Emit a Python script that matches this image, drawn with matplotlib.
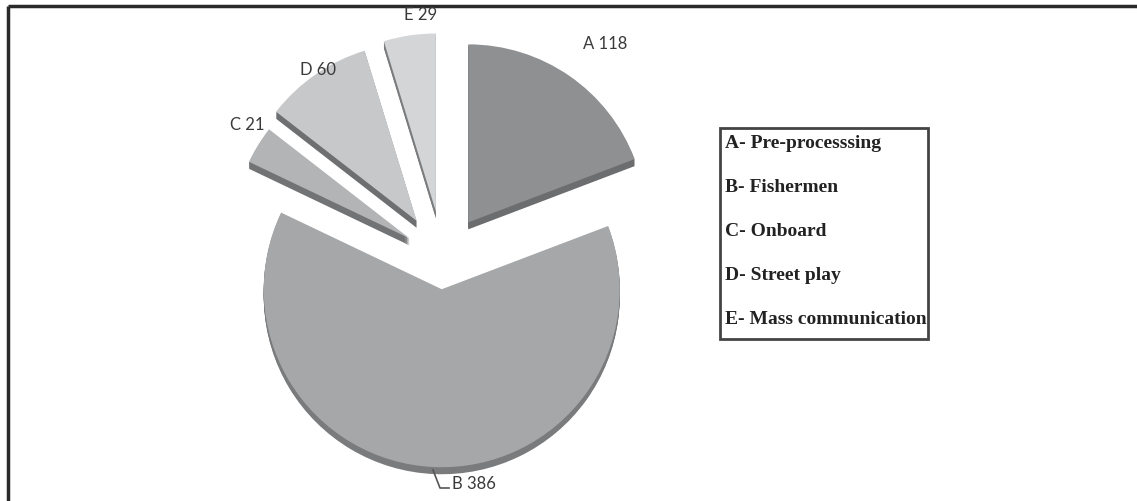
import numpy as np
import matplotlib
matplotlib.use('Agg')
import matplotlib.pyplot as plt
from matplotlib.patches import Rectangle

# slice data
codes = ['A', 'B', 'C', 'D', 'E']
values = [118, 386, 21, 60, 29]
names = ['Pre-processsing', 'Fishermen', 'Onboard', 'Street play', 'Mass communication']

# look of the pie (explode as a fraction of the radius)
explode = [0.25, 0.17, 0.22, 0.26, 0.27]
top_colors = ['#8f9092', '#a6a7a9', '#b3b4b6', '#c7c8ca', '#d4d5d7']
side_colors = ['#6c6d6f', '#7a7b7d', '#727375', '#6e6f71', '#7b7c7e']

W, H = 1137, 501
cx, cy = 443, H - 259
R = 178
depth = 7

fig = plt.figure(figsize=(W / 100, H / 100), dpi=100)
ax = fig.add_axes([0, 0, 1, 1])

# pie explode is in data units, so scale by the radius
expl_px = [e * R for e in explode]

# fake 3d thickness: stacked darker copies below the top face
for k in range(depth, 0, -1):
    ax.pie(values, explode=expl_px, colors=side_colors, startangle=90,
           counterclock=False, radius=R, center=(cx, cy - k),
           wedgeprops=dict(linewidth=0))
ax.pie(values, explode=expl_px, colors=top_colors, startangle=90,
       counterclock=False, radius=R, center=(cx, cy),
       wedgeprops=dict(linewidth=0))

ax.set_xlim(0, W)
ax.set_ylim(0, H)
ax.set_aspect('auto')
ax.axis('off')

# data labels
label_pos = [(605, 44), (452, 484), (247, 125), (318, 70), (421, 15)]
for c, v, (lx, ly) in zip(codes, values, label_pos):
    ha = 'left' if c == 'B' else 'center'
    ax.text(lx, H - ly, '%s %d' % (c, v), fontsize=12, family='Lato',
            color='#3a3a3a', ha=ha, va='center')

# leader line for B
ax.plot([433, 440, 449], [H - 470, H - 488, H - 488], color='#555555', lw=1.2)

# legend box
ax.add_patch(Rectangle((720, H - 339), 208, 211, fill=False,
                       edgecolor='#444444', lw=2))
leg_y = [143, 187, 231, 276, 320]
for c, n, yy in zip(codes, names, leg_y):
    ax.text(725, H - yy, '%s- %s' % (c, n), fontsize=14, family='Liberation Serif',
            weight='bold', color='#222222', ha='left', va='center')

# page frame (top and left)
ax.plot([8, W], [H - 6, H - 6], color='#2a2a2a', lw=2.5, solid_capstyle='butt')
ax.plot([8, 8], [H - 6, 0], color='#2a2a2a', lw=2.5, solid_capstyle='butt')

fig.savefig('out.png', dpi=100)
